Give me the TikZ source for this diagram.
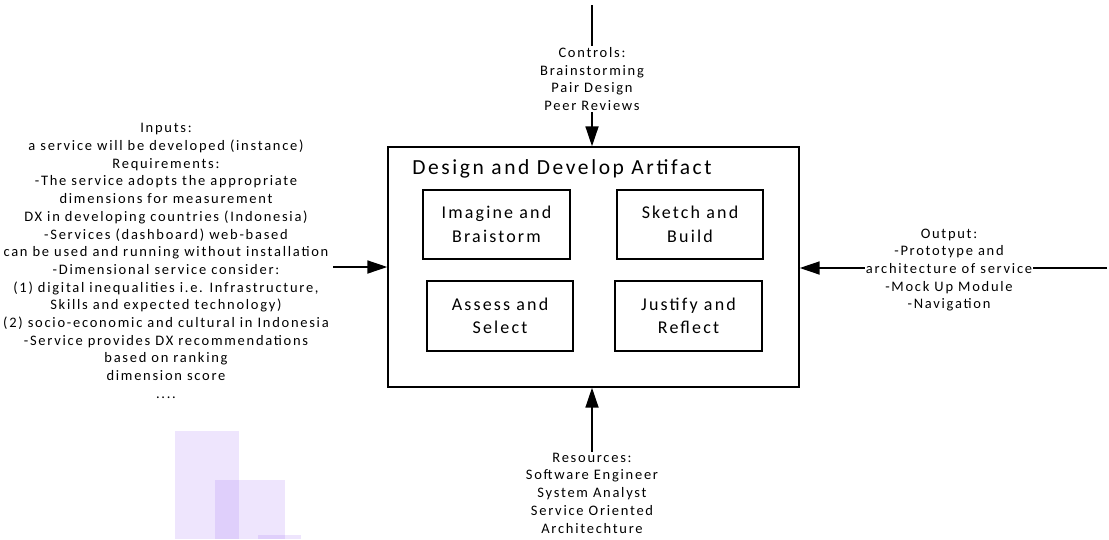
\documentclass[tikz,border=0pt]{standalone}
\usepackage{fontspec}
\setmainfont[LetterSpace=12]{Carlito}
\usetikzlibrary{arrows.meta}
\definecolor{lav}{RGB}{140,80,240}
\begin{document}
\begin{tikzpicture}[x=1pt,y=-1pt,
  txt/.style={align=center,inner sep=1pt,font=\fontsize{14.5}{17.7}\selectfont},
  box/.style={draw,line width=1.4pt,align=center,font=\fontsize{18}{23.5}\selectfont},
  arr/.style={line width=1.8pt,-{Triangle[length=20pt,width=13pt]}},
  plain/.style={line width=1.8pt},
  tint/.style={fill=lav,fill opacity=0.15}]
\useasboundingbox (0,0) rectangle (1109,539);

% translucent blocks at the lower left
\fill[tint] (175,431) rectangle (239,539);
\fill[tint] (215,480) rectangle (285,539);
\fill[tint] (258,535) rectangle (301,539);

% main activity box
\node[draw,line width=1.4pt,minimum width=411pt,minimum height=240pt] (main) at (593.5,267) {};
\node[font=\fontsize{21.5}{24}\selectfont,inner sep=0pt] (title) at (562,169) {Design and Develop Artifact};

\node[box,minimum width=147pt,minimum height=69pt] (imagine) at (496.5,224.5) {Imagine and\\Braistorm};
\node[box,minimum width=146pt,minimum height=69pt] (sketch) at (690,224.5) {Sketch and\\Build};
\node[box,minimum width=146pt,minimum height=70pt] (assess) at (500,316) {Assess and\\Select};
\node[box,minimum width=147pt,minimum height=70pt] (justify) at (688.5,316) {Justify and\\Reflect};

% controls (top)
\coordinate (ctop) at (592,5);
\node[txt] (ctrl) at (592,79) {Controls:\\Brainstorming\\Pair Design\\Peer Reviews};
\draw[plain] (ctop) -- (ctrl.north);
\draw[arr] (ctrl.south) -- (ctrl.south |- main.north);

% inputs (left)
\node[txt] (inputs) at (166,261) {Inputs:\\a service will be developed (instance)\\Requirements:\\-The service adopts the appropriate\\dimensions for measurement\\DX in developing countries (Indonesia)\\-Services (dashboard) web-based\\can be used and running without installation\\-Dimensional service consider:\\(1) digital inequalities i.e. Infrastructure,\\Skills and expected technology)\\(2) socio-economic and cultural in Indonesia\\-Service provides DX recommendations\\based on ranking\\dimension score\\....};
\coordinate (instart) at (333,267);
\draw[arr] (instart) -- (main.west);

% output (right)
\coordinate (outend) at (1107,268);
\draw[arr] (outend) -- (main.east |- outend);
\node[txt,fill=white] (output) at (949,270) {Output:\\-Prototype and\\architecture of service\\-Mock Up Module\\-Navigation};

% resources (bottom)
\node[txt] (res) at (592,493) {Resources:\\Software Engineer\\System Analyst\\Service Oriented\\Architechture};
\draw[arr] (res.north) -- (res.north |- main.south);
\end{tikzpicture}
\end{document}
